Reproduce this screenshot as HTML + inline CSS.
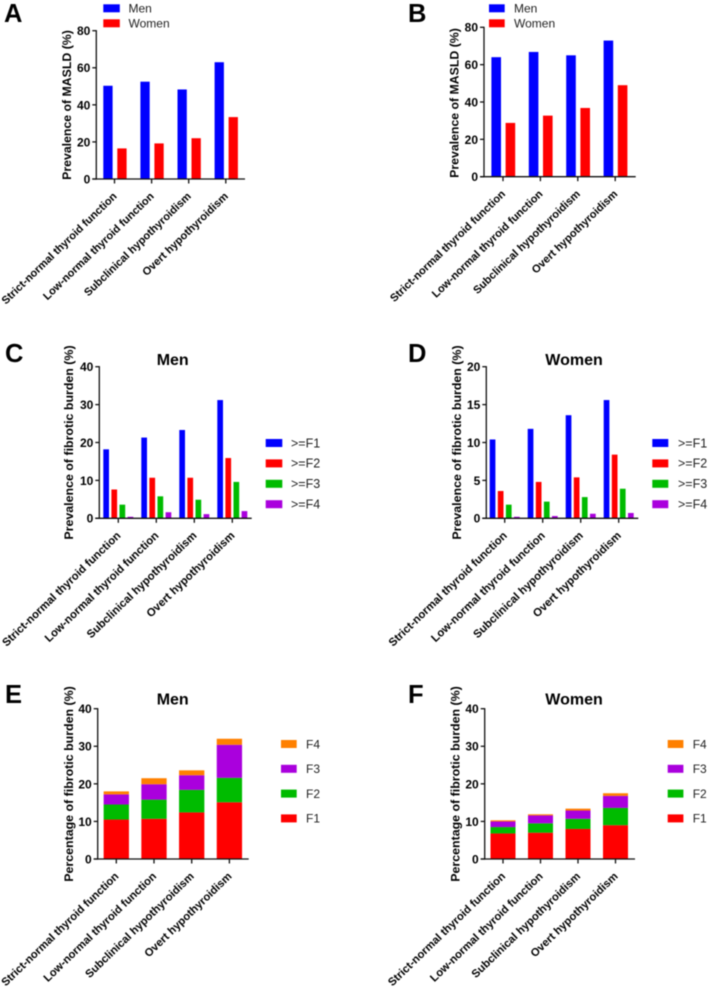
<!DOCTYPE html>
<html>
<head>
<meta charset="utf-8">
<style>
html,body{margin:0;padding:0;background:#fff;}
svg{display:block;font-family:"Liberation Sans",Arial,sans-serif;filter:blur(0.4px);}
</style>
</head>
<body>
<svg id="fig" xmlns="http://www.w3.org/2000/svg" width="708" height="988" viewBox="0 0 708 988"></svg>
<script>
const categories = ["Strict-normal thyroid function", "Low-normal thyroid function", "Subclinical hypothyroidism", "Overt hypothyroidism"];

const panelAMen = [50.3, 52.5, 48.3, 63];
const panelAWomen = [16.5, 19.2, 22, 33.4];
const panelBMen = [64, 66.8, 65, 72.9];
const panelBWomen = [28.8, 32.7, 36.8, 49];

const panelCF1 = [18.2, 21.3, 23.3, 31.2];
const panelCF2 = [7.6, 10.7, 10.7, 15.9];
const panelCF3 = [3.6, 5.8, 4.9, 9.6];
const panelCF4 = [0.4, 1.6, 1.1, 1.9];

const panelDF1 = [10.4, 11.8, 13.6, 15.6];
const panelDF2 = [3.6, 4.8, 5.4, 8.4];
const panelDF3 = [1.8, 2.2, 2.8, 3.9];
const panelDF4 = [0.2, 0.3, 0.6, 0.7];

const panelEF1 = [10.5, 10.7, 12.4, 15.1];
const panelEF2 = [4, 5.1, 6, 6.5];
const panelEF3 = [2.7, 4.1, 3.9, 8.8];
const panelEF4 = [0.8, 1.6, 1.3, 1.6];

const panelFF1 = [6.8, 7, 8, 9];
const panelFF2 = [1.7, 2.5, 2.7, 4.6];
const panelFF3 = [1.5, 2.1, 2.2, 3.2];
const panelFF4 = [0.3, 0.3, 0.5, 0.7];

const ticks80 = [0, 20, 40, 60, 80];
const ticks40 = [0, 10, 20, 30, 40];
const ticks20 = [0, 5, 10, 15, 20];

const sexLabels = ["Men", "Women"];
const atLeastLabels = [">=F1", ">=F2", ">=F3", ">=F4"];
const stageLabels = ["F1", "F2", "F3", "F4"];

const BLUE = "#0000ff", RED = "#ff0000", GREEN = "#00bb00", PURPLE = "#aa00dd", ORANGE = "#ff8000", INK = "#111111";
const svg = document.getElementById("fig");

function make(tag, attrs, text, parent) {
  const el = document.createElementNS("http://www.w3.org/2000/svg", tag);
  for (const k in attrs) el.setAttribute(k, attrs[k]);
  if (text !== undefined) el.textContent = text;
  (parent || svg).appendChild(el);
  return el;
}

function slug(s) {
  return s.toLowerCase().replace(/[^a-z0-9]+/g, "-").replace(/^-|-$/g, "");
}

function drawFrame(p, g) {
  const yOf = v => p.y0 - v / p.max * (p.y0 - p.yTop);
  const xOf = i => p.tick0 + i * p.step;

  const letter = make("text", {x: p.letterX, y: p.letterY, "font-size": 25.5, "font-weight": 700, fill: "#000"}, p.letter, g);
  
  

  if (p.title) {
    const title = make("text", {x: p.titleX, y: p.titleY, "font-size": 16, "font-weight": 700, fill: "#000", "text-anchor": "middle"}, p.title, g);
    
    
  }

  const yTitle = make("text", {transform: "translate(" + p.yTitleX + "," + p.yTitleY + ") rotate(-90)", "font-size": p.yTitleSize, "font-weight": 700, fill: "#000", "text-anchor": "middle"}, p.yTitle, g);
  
  

  p.ticks.forEach(v => {
    const t = make("line", {x1: p.axisX - 4, x2: p.axisX, y1: yOf(v), y2: yOf(v), stroke: INK, "stroke-width": 1.3}, undefined, g);
    
    
    const l = make("text", {x: p.axisX - 6, y: yOf(v) + 4.4, "font-size": 12, "font-weight": 700, fill: "#000", "text-anchor": "end"}, String(v), g);
    
    
  });

  categories.forEach((c, i) => {
    const t = make("line", {x1: xOf(i), x2: xOf(i), y1: p.y0, y2: p.y0 + 4.5, stroke: INK, "stroke-width": 1.3}, undefined, g);
    
    
    const l = make("text", {transform: "translate(" + (xOf(i) + 3) + "," + (p.y0 + 18) + ") rotate(-44)", "font-size": p.xLabelSize, "font-weight": 700, fill: "#000", "text-anchor": "end"}, c, g);
    
    
  });

  return {yOf, xOf};
}

function drawAxes(p, g) {
  const ya = make("line", {x1: p.axisX, x2: p.axisX, y1: p.yTop - 0.6, y2: p.y0 + 0.6, stroke: INK, "stroke-width": 1.3}, undefined, g);
  
  
  const xa = make("line", {x1: p.axisX - 4, x2: p.axisEnd, y1: p.y0, y2: p.y0, stroke: INK, "stroke-width": 1.3}, undefined, g);
  
  
}

function drawLegend(p, labels, colors, g) {
  labels.forEach((label, r) => {
    const y = p.legendY + r * p.legendStep;
    const s = make("rect", {x: p.swatchX, y: y, width: p.swatchW, height: 8, fill: colors[r]}, undefined, g);
    
    
    const t = make("text", {x: p.legendTextX, y: y + 8.3, "font-size": p.legendSize, fill: "#222"}, label, g);
    
    
  });
}

function groupedPanel(p, series, names, colors) {
  const g = make("g", {});
  
  
  const {yOf, xOf} = drawFrame(p, g);
  series.forEach((vals, s) => {
    vals.forEach((v, i) => {
      const x = xOf(i) + p.barStart + s * p.barPitch;
      const b = make("rect", {x: x, y: yOf(v), width: p.barW, height: p.y0 - yOf(v), fill: colors[s]}, undefined, g);
      
      
    });
  });
  drawAxes(p, g);
  drawLegend(p, names, colors, g);
}

function stackedPanel(p, series, names, colors) {
  const g = make("g", {});
  
  
  const {yOf, xOf} = drawFrame(p, g);
  categories.forEach((c, i) => {
    let base = 0;
    series.forEach((vals, s) => {
      const top = base + vals[i];
      const b = make("rect", {x: xOf(i) - p.barW / 2, y: yOf(top), width: p.barW, height: yOf(base) - yOf(top), fill: colors[s]}, undefined, g);
      
      
      base = top;
    });
  });
  drawAxes(p, g);
  drawLegend(p, names.slice().reverse(), colors.slice().reverse(), g);
}

groupedPanel({
  letter: "A", letterX: 4, letterY: 22, yTitle: "Prevalence of MASLD (%)", yTitleX: 71, yTitleY: 105, yTitleSize: 12.3, xLabelSize: 11,
  axisX: 96.3, axisEnd: 245, y0: 179, yTop: 30.7, max: 80, ticks: ticks80, tick0: 114.5, step: 37.1,
  barW: 9.3, barStart: -11.2, barPitch: 14,
  swatchX: 103.3, swatchW: 16.5, legendY: 4.3, legendStep: 15, legendTextX: 128.5, legendSize: 12
}, [panelAMen, panelAWomen], sexLabels, [BLUE, RED]);

groupedPanel({
  letter: "B", letterX: 408, letterY: 22, yTitle: "Prevalence of MASLD (%)", yTitleX: 458.5, yTitleY: 103, yTitleSize: 12.3, xLabelSize: 11,
  axisX: 484, axisEnd: 635.7, y0: 176.7, yTop: 27.3, max: 80, ticks: ticks80, tick0: 503, step: 37.4,
  barW: 9.6, barStart: -11.6, barPitch: 14.2,
  swatchX: 489, swatchW: 15.7, legendY: 4.3, legendStep: 15, legendTextX: 514, legendSize: 12
}, [panelBMen, panelBWomen], sexLabels, [BLUE, RED]);

groupedPanel({
  letter: "C", letterX: 5, letterY: 362, title: "Men", titleX: 172.7, titleY: 365, yTitle: "Prevalence of fibrotic burden (%)", yTitleX: 73, yTitleY: 442.5, yTitleSize: 12.4, xLabelSize: 11.3,
  axisX: 99.3, axisEnd: 251.7, y0: 518.3, yTop: 366.7, max: 40, ticks: ticks40, tick0: 118.3, step: 38,
  barW: 5.7, barStart: -15, barPitch: 8.1,
  swatchX: 265.7, swatchW: 16.6, legendY: 439, legendStep: 20.4, legendTextX: 291, legendSize: 12.5
}, [panelCF1, panelCF2, panelCF3, panelCF4], atLeastLabels, [BLUE, RED, GREEN, PURPLE]);

groupedPanel({
  letter: "D", letterX: 408, letterY: 362, title: "Women", titleX: 574, titleY: 365, yTitle: "Prevalence of fibrotic burden (%)", yTitleX: 461, yTitleY: 442.5, yTitleSize: 12.4, xLabelSize: 11.3,
  axisX: 486.3, axisEnd: 638.3, y0: 518.3, yTop: 366.7, max: 20, ticks: ticks20, tick0: 504.7, step: 38,
  barW: 5.7, barStart: -15, barPitch: 8.1,
  swatchX: 652.3, swatchW: 16, legendY: 439, legendStep: 20.4, legendTextX: 678, legendSize: 12.5
}, [panelDF1, panelDF2, panelDF3, panelDF4], atLeastLabels, [BLUE, RED, GREEN, PURPLE]);

stackedPanel({
  letter: "E", letterX: 5, letterY: 703, title: "Men", titleX: 172.7, titleY: 704.7, yTitle: "Percentage of fibrotic burden (%)", yTitleX: 73, yTitleY: 784, yTitleSize: 12.4, xLabelSize: 11.2,
  axisX: 97.7, axisEnd: 248.7, y0: 859, yTop: 708.7, max: 40, ticks: ticks40, tick0: 116.3, step: 37.7,
  barW: 25.3,
  swatchX: 281, swatchW: 15.7, legendY: 740, legendStep: 24.8, legendTextX: 306, legendSize: 12
}, [panelEF1, panelEF2, panelEF3, panelEF4], stageLabels, [RED, GREEN, PURPLE, ORANGE]);

stackedPanel({
  letter: "F", letterX: 408, letterY: 703, title: "Women", titleX: 574, titleY: 704.7, yTitle: "Percentage of fibrotic burden (%)", yTitleX: 459.5, yTitleY: 784, yTitleSize: 12.4, xLabelSize: 11.2,
  axisX: 484.7, axisEnd: 635, y0: 859, yTop: 708.7, max: 40, ticks: ticks40, tick0: 503, step: 37.5,
  barW: 25,
  swatchX: 667.7, swatchW: 15.7, legendY: 740, legendStep: 24.8, legendTextX: 692.7, legendSize: 12
}, [panelFF1, panelFF2, panelFF3, panelFF4], stageLabels, [RED, GREEN, PURPLE, ORANGE]);
</script>
</body>
</html>
